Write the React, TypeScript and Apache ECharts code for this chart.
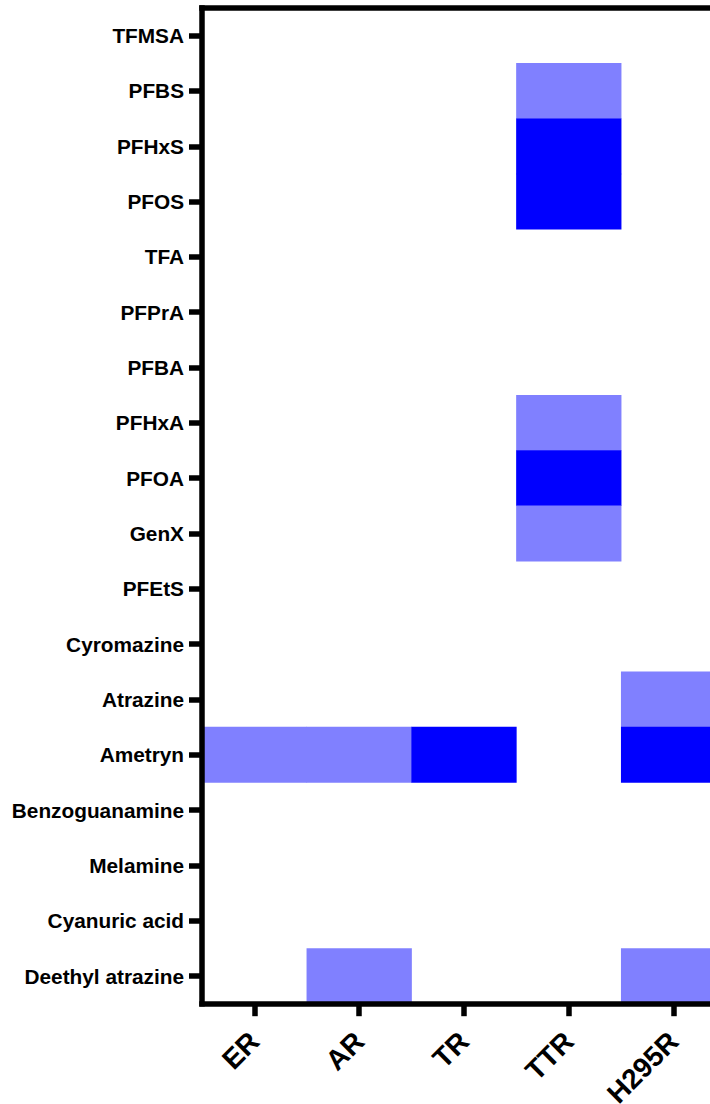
import React, { useEffect, useRef } from "react";
import * as echarts from "echarts";

// Compounds, top to bottom
const compounds = [
  "TFMSA",
  "PFBS",
  "PFHxS",
  "PFOS",
  "TFA",
  "PFPrA",
  "PFBA",
  "PFHxA",
  "PFOA",
  "GenX",
  "PFEtS",
  "Cyromazine",
  "Atrazine",
  "Ametryn",
  "Benzoguanamine",
  "Melamine",
  "Cyanuric acid",
  "Deethyl atrazine",
];

// Assays along the bottom
const assays = ["ER", "AR", "TR", "TTR", "H295R"];

// Activity per compound in each assay: 0 = inactive, 1 = weak, 2 = strong
const er = [0, 0, 0, 0, 0, 0, 0, 0, 0, 0, 0, 0, 0, 1, 0, 0, 0, 0];
const ar = [0, 0, 0, 0, 0, 0, 0, 0, 0, 0, 0, 0, 0, 1, 0, 0, 0, 1];
const tr = [0, 0, 0, 0, 0, 0, 0, 0, 0, 0, 0, 0, 0, 2, 0, 0, 0, 0];
const ttr = [0, 1, 2, 2, 0, 0, 0, 1, 2, 1, 0, 0, 0, 0, 0, 0, 0, 0];
const h295r = [0, 0, 0, 0, 0, 0, 0, 0, 0, 0, 0, 0, 1, 2, 0, 0, 0, 1];

const activity = [er, ar, tr, ttr, h295r];

export default function App() {
  const ref = useRef<HTMLDivElement>(null);

  useEffect(() => {
    document.body.style.margin = "0";
    if (!ref.current) return;
    const chart = echarts.init(ref.current, undefined, { renderer: "svg" });

    const cells: [number, number, number][] = [];
    activity.forEach((col, xi) => {
      col.forEach((v, yi) => {
        if (v > 0) cells.push([xi, yi, v]);
      });
    });

    const font = "Liberation Sans, Arial, sans-serif";
    const axisLine = {
      show: true,
      lineStyle: { color: "#000", width: 5.5, cap: "square" as const },
    };

    chart.setOption({
      animation: false,
      backgroundColor: "#fff",
      grid: {
        left: 202,
        top: 8,
        width: 524,
        height: 995.7,
        containLabel: false,
        outerBoundsMode: "none",
      },
      visualMap: {
        type: "piecewise",
        show: false,
        dimension: 2,
        pieces: [
          { value: 1, color: "#8080ff" },
          { value: 2, color: "#0000ff" },
        ],
      },
      xAxis: [
        {
          type: "category",
          data: assays,
          position: "bottom",
          z: 10,
          axisLine,
          axisTick: {
            show: true,
            alignWithLabel: true,
            length: 12.5,
            lineStyle: { color: "#000", width: 5.5 },
          },
          axisLabel: {
            rotate: 45,
            margin: 33,
            color: "#000",
            fontFamily: font,
            fontWeight: "bold",
            fontSize: 28,
            interval: 0,
          },
          splitLine: { show: false },
        },
        {
          type: "category",
          data: assays,
          position: "top",
          z: 10,
          axisLine,
          axisTick: { show: false },
          axisLabel: { show: false },
          splitLine: { show: false },
        },
      ],
      yAxis: {
        type: "category",
        data: compounds,
        inverse: true,
        z: 10,
        axisLine,
        axisTick: {
          show: true,
          alignWithLabel: true,
          length: 13,
          lineStyle: { color: "#000", width: 5.5 },
        },
        axisLabel: {
          margin: 18,
          color: "#000",
          fontFamily: font,
          fontWeight: "bold",
          fontSize: 20.8,
          interval: 0,
        },
        splitLine: { show: false },
      },
      series: [
        {
          type: "heatmap",
          xAxisIndex: 0,
          yAxisIndex: 0,
          data: cells,
          emphasis: { disabled: true },
          itemStyle: { borderWidth: 0 },
        },
      ],
    });

    return () => chart.dispose();
  }, []);

  return <div ref={ref} style={{ width: 710, height: 1104 }} />;
}
